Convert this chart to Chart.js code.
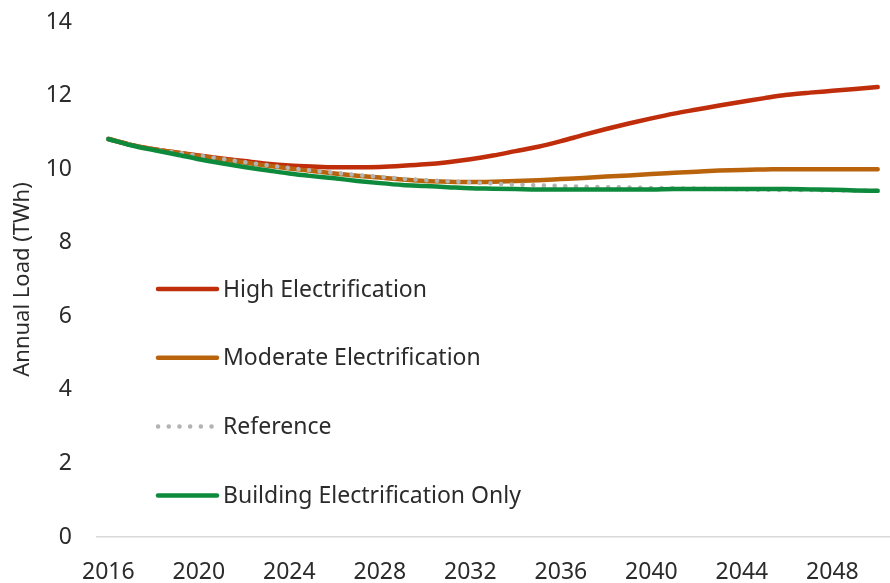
<!DOCTYPE html>
<html>
<head>
<meta charset="utf-8">
<script src="https://cdn.jsdelivr.net/npm/chart.js@4/dist/chart.umd.min.js"></script>
<style>
  html, body { margin: 0; padding: 0; background: #ffffff; }
  #wrap { width: 890px; height: 583px; }
</style>
</head>
<body>
<div id="wrap"><canvas id="c" width="890" height="583"></canvas></div>
<script>
// Annual load projections, TWh, 2016–2050
const years = [];
for (let y = 2016; y <= 2050; y++) years.push(String(y));

const highElectrification = [
  10.82, 10.66, 10.54, 10.45, 10.37, 10.29, 10.22, 10.15, 10.10, 10.07,
  10.05, 10.05, 10.06, 10.09, 10.13, 10.19, 10.27, 10.37, 10.49, 10.61,
  10.76, 10.93, 11.09, 11.24, 11.38, 11.51, 11.62, 11.73, 11.83, 11.93,
  12.02, 12.08, 12.13, 12.18, 12.23
];
const moderateElectrification = [
  10.82, 10.66, 10.54, 10.45, 10.36, 10.27, 10.18, 10.10, 10.02, 9.95,
  9.88, 9.82, 9.77, 9.72, 9.68, 9.66, 9.65, 9.66, 9.68, 9.70,
  9.73, 9.76, 9.80, 9.83, 9.87, 9.90, 9.93, 9.96, 9.98, 9.99,
  10.00, 10.00, 10.00, 10.00, 10.00
];
const referenceCase = [
  10.82, 10.66, 10.54, 10.45, 10.37, 10.28, 10.19, 10.11, 10.03, 9.96,
  9.90, 9.84, 9.79, 9.74, 9.70, 9.67, 9.64, 9.61, 9.58, 9.56,
  9.54, 9.52, 9.51, 9.50, 9.49, 9.48, 9.47, 9.46, 9.45, 9.44,
  9.43, 9.43, 9.42, 9.42, 9.41
];
const buildingOnly = [
  10.82, 10.65, 10.52, 10.40, 10.27, 10.16, 10.06, 9.97, 9.88, 9.81,
  9.75, 9.68, 9.62, 9.57, 9.54, 9.51, 9.48, 9.47, 9.46, 9.45,
  9.45, 9.45, 9.45, 9.45, 9.45, 9.46, 9.46, 9.46, 9.46, 9.46,
  9.46, 9.45, 9.44, 9.42, 9.41
];
const yTicks = [0, 2, 4, 6, 8, 10, 12, 14];

const FONT = "'Noto Sans', 'Open Sans', sans-serif";
const TEXT = '#2b2b2b';

const colors = {
  high: '#bf2d0b',
  moderate: '#b9640c',
  reference: '#b3b3b3',
  building: '#0d8a3b'
};

const datasets = [
  { label: 'High Electrification', data: highElectrification, borderColor: colors.high, order: 3 },
  { label: 'Moderate Electrification', data: moderateElectrification, borderColor: colors.moderate, order: 2 },
  { label: 'Reference', data: referenceCase, borderColor: colors.reference, borderDash: [0.1, 10.6], order: 1 },
  { label: 'Building Electrification Only', data: buildingOnly, borderColor: colors.building, order: 0 }
].map(d => Object.assign({
  borderWidth: 4.5,
  borderCapStyle: 'round',
  borderJoinStyle: 'round',
  pointRadius: 0,
  pointHoverRadius: 0,
  fill: false,
  cubicInterpolationMode: 'monotone'
}, d));

// Legend drawn inside the plot area, in series order
const insideLegend = {
  id: 'insideLegend',
  afterDatasetsDraw(chart) {
    const { ctx, chartArea } = chart;
    const x0 = chartArea.left + 61;
    const lineLen = 59;
    const firstY = chartArea.top + 267;
    const step = 68.8;
    ctx.save();
    ctx.font = '23px ' + FONT;
    ctx.textBaseline = 'middle';
    ctx.textAlign = 'left';
    datasets.forEach((d, i) => {
      const y = firstY + i * step;
      ctx.beginPath();
      ctx.lineWidth = d.borderWidth;
      ctx.strokeStyle = d.borderColor;
      ctx.lineCap = 'round';
      ctx.setLineDash(d.borderDash || []);
      ctx.moveTo(x0, y);
      ctx.lineTo(x0 + lineLen, y);
      ctx.stroke();
      ctx.setLineDash([]);
      ctx.fillStyle = TEXT;
      ctx.fillText(d.label, x0 + lineLen + 6, y + 1);
    });
    ctx.restore();
  }
};

new Chart(document.getElementById('c'), {
  type: 'line',
  data: { labels: years, datasets },
  plugins: [insideLegend],
  options: {
    responsive: false,
    animation: false,
    events: [],
    layout: { padding: { top: 22, right: 1, left: 0, bottom: 0 } },
    plugins: { legend: { display: false }, tooltip: { enabled: false } },
    scales: {
      x: {
        type: 'category',
        offset: true,
        grid: { display: false, drawTicks: false },
        border: { display: true, color: '#d9d9d9', width: 1.5 },
        ticks: {
          autoSkip: false,
          maxRotation: 0,
          padding: 22,
          color: TEXT,
          font: { family: FONT, size: 23 },
          callback(value, index) {
            const lbl = this.getLabelForValue(value);
            return (Number(lbl) - 2016) % 4 === 0 ? lbl : '';
          }
        },
        afterFit(scale) {
          scale.height = 46;
          scale.paddingLeft = 0;
          scale.paddingRight = 0;
        }
      },
      y: {
        min: 0,
        max: 14,
        afterBuildTicks(scale) { scale.ticks = yTicks.map(v => ({ value: v })); },
        grid: { display: false, drawTicks: false },
        border: { display: false },
        ticks: {
          padding: 25,
          color: TEXT,
          font: { family: FONT, size: 23 }
        },
        title: {
          display: true,
          text: 'Annual Load (TWh)',
          color: TEXT,
          font: { family: FONT, size: 22 },
          padding: { top: 10, bottom: 0 }
        },
        afterFit(scale) {
          scale.width = 97;
          scale.paddingTop = 0;
          scale.paddingBottom = 0;
        }
      }
    }
  }
});
</script>
</body>
</html>
